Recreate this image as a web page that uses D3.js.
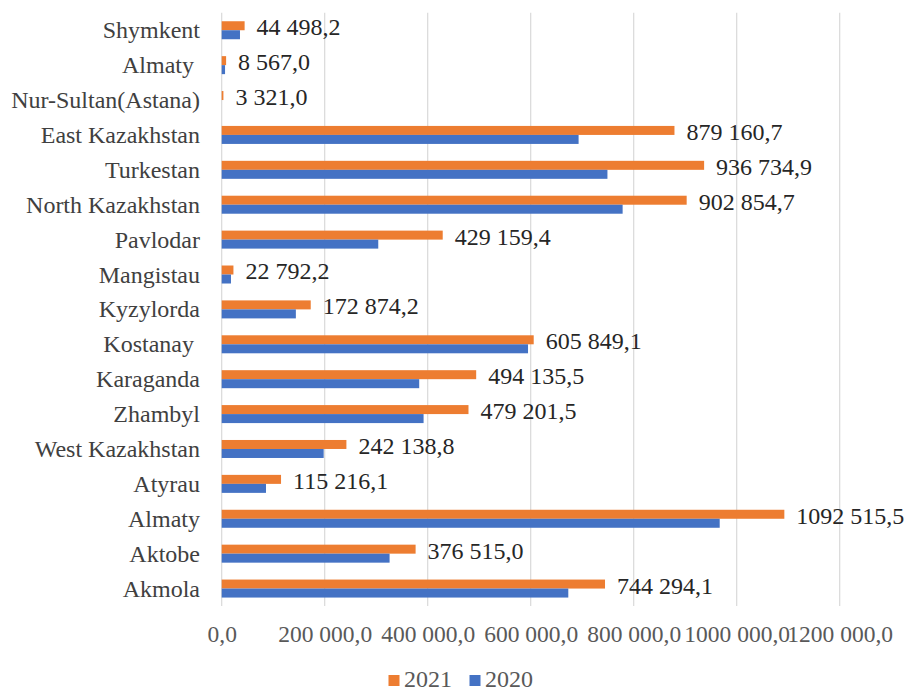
<!DOCTYPE html>
<html>
<head>
<meta charset="utf-8">
<script src="https://cdn.jsdelivr.net/npm/d3@7"></script>
<style>
  html, body { margin: 0; padding: 0; background: #fff; font-family: "Liberation Serif", serif; }
  text { white-space: pre; }
</style>
</head>
<body>
<svg id="chart" width="909" height="691" font-family="Liberation Serif"></svg>
<script>
// Categories, top to bottom
const categories = [
  "Shymkent", "Almaty ", "Nur-Sultan(Astana)", "East Kazakhstan", "Turkestan",
  "North Kazakhstan", "Pavlodar", "Mangistau", "Kyzylorda", "Kostanay ",
  "Karaganda", "Zhambyl", "West Kazakhstan", "Atyrau", "Almaty", "Aktobe", "Akmola"
];
const values2021 = [
  44498.2, 8567.0, 3321.0, 879160.7, 936734.9,
  902854.7, 429159.4, 22792.2, 172874.2, 605849.1,
  494135.5, 479201.5, 242138.8, 115216.1, 1092515.5, 376515.0, 744294.1
];
const values2020 = [
  35500, 6500, 0, 693000, 749000,
  778500, 304000, 18000, 144000, 594800,
  383500, 392000, 198000, 86000, 967000, 326000, 673000
];
const labels2021 = [
  "44 498,2", "8 567,0", "3 321,0", "879 160,7", "936 734,9",
  "902 854,7", "429 159,4", "22 792,2", "172 874,2", "605 849,1",
  "494 135,5", "479 201,5", "242 138,8", "115 216,1", "1092 515,5", "376 515,0", "744 294,1"
];
const tickValues = [0, 200000, 400000, 600000, 800000, 1000000, 1200000];
const tickLabels = ["0,0", "200 000,0", "400 000,0", "600 000,0", "800 000,0", "1000 000,0", "1200 000,0"];
const seriesNames = ["2021", "2020"];
const seriesColors = ["#ED7D31", "#4472C4"];

const FONT = "Liberation Serif";
const svg = d3.select("#chart");
const plot = { left: 221.7, right: 839.7, top: 12.8, bottom: 606 };

const x = d3.scaleLinear().domain([0, 1200000]).range([plot.left, plot.right]);
const y0 = d3.scaleBand().domain(d3.range(categories.length)).range([plot.top, plot.bottom]).padding(0);
const barH = 9;
const pOuter = (y0.bandwidth() / barH - 2) / 2;
const y1 = d3.scaleBand().domain(seriesNames).range([0, y0.bandwidth()]).paddingInner(0).paddingOuter(pOuter);

// gridlines
svg.append("g")
  .selectAll("line")
  .data(tickValues)
  .join("line")
  .attr("x1", d => x(d)).attr("x2", d => x(d))
  .attr("y1", plot.top).attr("y2", plot.bottom)
  .attr("stroke", "#d9d9d9").attr("stroke-width", 1.2);

// x axis tick labels
const xAxis = d3.axisBottom(x).tickValues(tickValues).tickSize(0).tickPadding(0)
  .tickFormat((d, i) => tickLabels[i]);
const gx = svg.append("g").attr("transform", `translate(0,${plot.bottom})`).call(xAxis);
gx.attr("font-family", FONT);
gx.select(".domain").remove();
gx.selectAll("text")
  .attr("dy", null).attr("y", 35.5)
  .attr("font-family", FONT)
  .attr("font-size", 23.5).attr("fill", "#595959");

// category labels
const yAxis = d3.axisLeft(y0).tickSize(0).tickPadding(0).tickFormat(i => categories[i]);
const gy = svg.append("g").attr("transform", `translate(200,0)`).call(yAxis);
gy.attr("font-family", FONT);
gy.select(".domain").remove();
gy.selectAll("text")
  .attr("dy", null).attr("y", 8)
  .attr("x", 0)
  .attr("font-family", FONT)
  .attr("font-size", 24).attr("fill", "#404040");

// bars
const groups = svg.append("g").selectAll("g")
  .data(categories.map((c, i) => i))
  .join("g")
  .attr("transform", i => `translate(0,${y0(i)})`);

const allVals = [values2021, values2020];
groups.selectAll("rect")
  .data(i => seriesNames.map((s, k) => ({ s, k, v: allVals[k][i] })))
  .join("rect")
  .attr("x", x(0))
  .attr("y", d => y1(d.s))
  .attr("width", d => x(d.v) - x(0))
  .attr("height", y1.bandwidth())
  .attr("fill", d => seriesColors[d.k]);

// value labels for 2021
groups.append("text")
  .attr("x", i => x(values2021[i]) + 12)
  .attr("y", y1("2021") + y1.bandwidth() / 2 + 9.5)
  .attr("font-family", FONT)
  .attr("font-size", 24)
  .attr("fill", "#262626")
  .text(i => labels2021[i]);

// legend
const legend = svg.append("g");
const legendItems = [
  { name: "2021", color: seriesColors[0], x: 388.5 },
  { name: "2020", color: seriesColors[1], x: 469.5 }
];
legendItems.forEach(it => {
  legend.append("rect").attr("x", it.x).attr("y", 675).attr("width", 11).attr("height", 11).attr("fill", it.color);
  legend.append("text").attr("x", it.x + 15.5).attr("y", 686.5)
    .attr("font-family", FONT)
    .attr("font-size", 24).attr("fill", "#595959").text(it.name);
});
</script>
</body>
</html>
